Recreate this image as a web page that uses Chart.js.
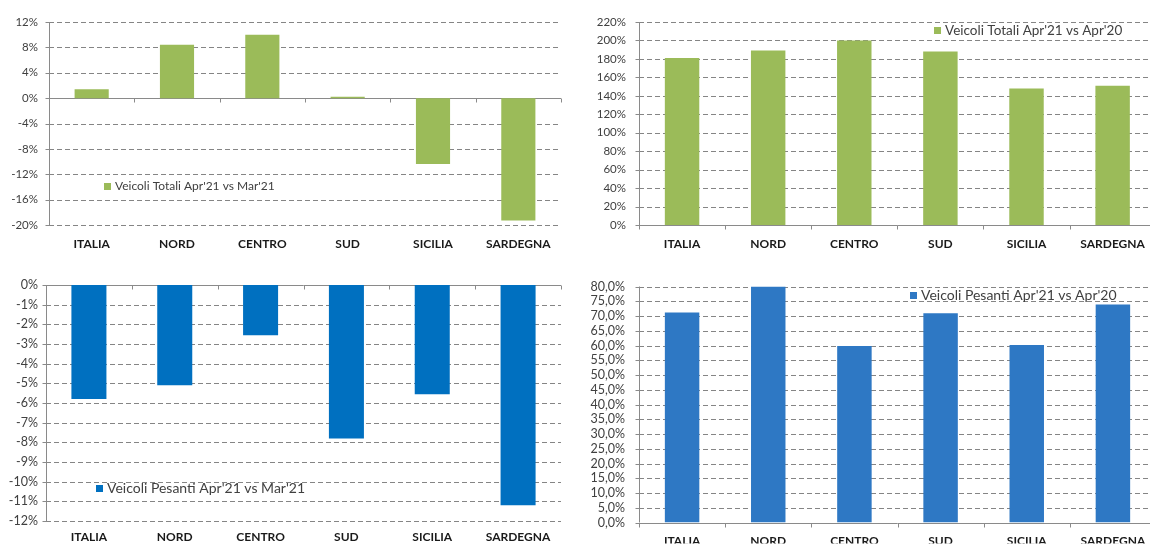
<!DOCTYPE html>
<html>
<head>
<meta charset="utf-8">
<script src="https://cdn.jsdelivr.net/npm/chart.js@4/dist/chart.umd.min.js"></script>
<style>
  html, body { margin: 0; padding: 0; background: #fff; overflow: hidden; }
  .panel { position: absolute; }
  #p1 { left: 0; top: 0; }
  #p2 { left: 575px; top: 0; }
  #p3 { left: 0; top: 265px; }
  #p4 { left: 575px; top: 265px; }
</style>
</head>
<body>
<div class="panel" id="p1"><canvas id="c1" width="575" height="265"></canvas></div>
<div class="panel" id="p2"><canvas id="c2" width="582" height="265"></canvas></div>
<div class="panel" id="p3"><canvas id="c3" width="575" height="279"></canvas></div>
<div class="panel" id="p4"><canvas id="c4" width="582" height="279"></canvas></div>
<script>
const regions = ['ITALIA', 'NORD', 'CENTRO', 'SUD', 'SICILIA', 'SARDEGNA'];

// variazioni % veicoli totali
const totaliAprMar = [1.4, 8.4, 10.0, 0.2, -10.4, -19.3];
const totaliAprApr = [181, 189, 200, 188, 148, 151];

// variazioni % veicoli pesanti
const pesantiAprMar = [-5.8, -5.1, -2.55, -7.8, -5.55, -11.2];
const pesantiAprApr = [71.2, 80.0, 59.8, 70.9, 60.2, 73.9];

const labelsTotMar = "Veicoli Totali Apr'21 vs Mar'21";
const labelsTotApr = "Veicoli Totali Apr'21 vs Apr'20";
const labelsPesMar = "Veicoli Pesanti Apr'21 vs Mar'21";
const labelsPesApr = "Veicoli Pesanti Apr'21 vs Apr'20";

const GREEN = '#9bbb59';
const BLUE_DARK = '#0070c0';
const BLUE = '#2e78c4';
const FONT = 'Lato, "Open Sans", sans-serif';

// dashed grid, axis lines with small tick marks, in-plot legend
const excelAxes = {
  id: 'excelAxes',
  beforeDatasetsDraw(chart) {
    const { ctx, chartArea: a, scales: { x, y } } = chart;
    ctx.save();
    ctx.lineWidth = 1;

    ctx.strokeStyle = '#858585';
    ctx.setLineDash([5, 3]);
    ctx.beginPath();
    y.ticks.forEach(t => {
      if (t.value === 0) return;
      const py = Math.round(y.getPixelForValue(t.value)) + 0.5;
      ctx.moveTo(a.left, py);
      ctx.lineTo(a.right, py);
    });
    ctx.stroke();
    ctx.setLineDash([]);

    ctx.strokeStyle = '#8a8a8a';
    ctx.beginPath();
    const ax = Math.round(a.left) + 0.5;
    ctx.moveTo(ax, a.top);
    ctx.lineTo(ax, a.bottom);
    y.ticks.forEach(t => {
      const py = Math.round(y.getPixelForValue(t.value)) + 0.5;
      ctx.moveTo(ax - 4, py);
      ctx.lineTo(ax, py);
    });
    const zy = Math.round(y.getPixelForValue(0)) + 0.5;
    ctx.moveTo(a.left, zy);
    ctx.lineTo(a.right, zy);
    for (let i = 0; i <= regions.length; i++) {
      const bx = Math.round(x.getPixelForValue(i - 0.5)) + 0.5;
      ctx.moveTo(bx, zy);
      ctx.lineTo(bx, zy + 4);
    }
    ctx.stroke();
    ctx.restore();
  },
  afterDatasetsDraw(chart, args, opts) {
    const { ctx } = chart;
    const ds = chart.data.datasets[0];
    ctx.save();
    ctx.fillStyle = ds.backgroundColor;
    ctx.fillRect(opts.x, opts.y - 3, 7, 7);
    ctx.fillStyle = '#404040';
    ctx.font = opts.size + 'px ' + FONT;
    ctx.textBaseline = 'middle';
    ctx.fillText(ds.label, opts.x + 11, opts.y + 0.5);
    ctx.restore();
  }
};

function makeChart(id, values, label, color, axis, frame) {
  new Chart(document.getElementById(id), {
    type: 'bar',
    data: {
      labels: regions,
      datasets: [{
        label: label,
        data: values,
        backgroundColor: color,
        borderWidth: 0,
        categoryPercentage: 0.8,
        barPercentage: frame.bar
      }]
    },
    options: {
      responsive: false,
      animation: false,
      layout: { padding: { top: frame.top, right: frame.right, left: 0, bottom: 0 } },
      plugins: {
        legend: { display: false },
        tooltip: { enabled: false },
        excelAxes: frame.legend
      },
      scales: {
        x: {
          grid: { display: false, drawTicks: false },
          border: { display: false },
          ticks: {
            padding: frame.xPad,
            color: '#1a1a1a',
            font: { family: FONT, size: 12, weight: 'bold' },
            maxRotation: 0,
            autoSkip: false
          },
          afterFit: s => { s.height = frame.xHeight; }
        },
        y: {
          min: axis.min,
          max: axis.max,
          grid: { display: false, drawTicks: false },
          border: { display: false },
          ticks: {
            stepSize: axis.step,
            autoSkip: false,
            padding: frame.yPad,
            color: '#404040',
            font: { family: FONT, size: frame.tickSize },
            callback: axis.format
          },
          afterFit: s => { s.width = frame.yWidth; }
        }
      }
    },
    plugins: [excelAxes]
  });
}

const pct = v => v + '%';
const pctComma = v => v.toFixed(1).replace('.', ',') + '%';

makeChart('c1', totaliAprMar, labelsTotMar, GREEN,
  { min: -20, max: 12, step: 4, format: pct },
  { top: 22, right: 14, yWidth: 49, yPad: 11, xHeight: 40, xPad: 12, bar: 0.5, tickSize: 11.5,
    legend: { x: 104, y: 186, size: 12 } });

makeChart('c2', totaliAprApr, labelsTotApr, GREEN,
  { min: 0, max: 220, step: 20, format: pct },
  { top: 22, right: 1, yWidth: 64, yPad: 13, xHeight: 40, xPad: 12, bar: 0.5, tickSize: 11.5,
    legend: { x: 359, y: 30, size: 13.5 } });

makeChart('c3', pesantiAprMar, labelsPesMar, BLUE_DARK,
  { min: -12, max: 0, step: 1, format: pct },
  { top: 20, right: 14, yWidth: 46, yPad: 8, xHeight: 23, xPad: 9, bar: 0.51, tickSize: 12.5,
    legend: { x: 96, y: 223, size: 14 } });

makeChart('c4', pesantiAprApr, labelsPesApr, BLUE,
  { min: 0, max: 80, step: 5, format: pctComma },
  { top: 21, right: 1, yWidth: 64, yPad: 14, xHeight: 21, xPad: 11, bar: 0.5, tickSize: 12.5,
    legend: { x: 335, y: 30, size: 14 } });
</script>
</body>
</html>
